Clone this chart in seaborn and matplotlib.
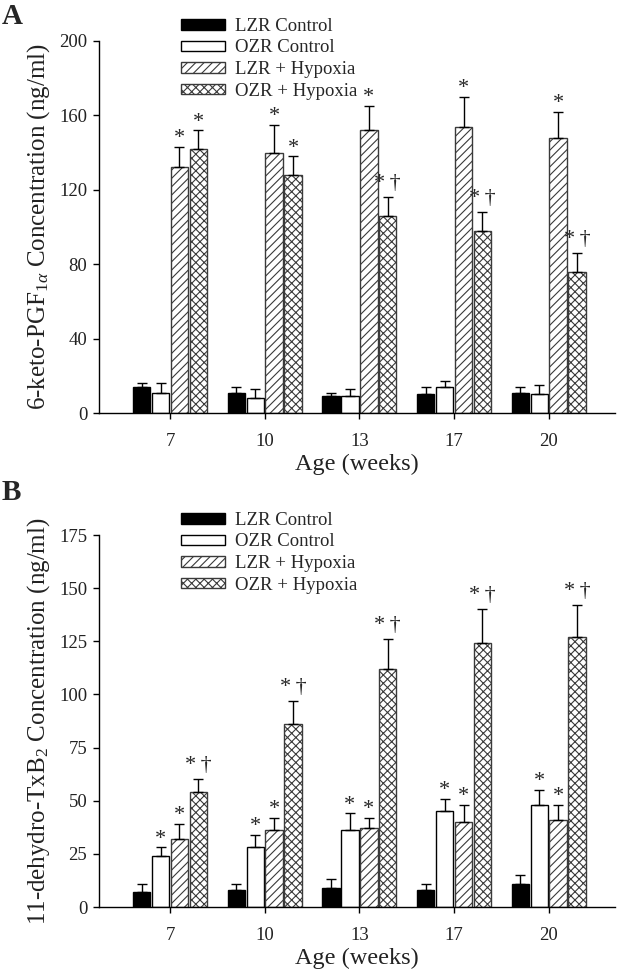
import numpy as np
import pandas as pd
import matplotlib
matplotlib.use("Agg")
import matplotlib.pyplot as plt
import seaborn as sns

ages = ["7", "10", "13", "17", "20"]
groups = ["LZR Control", "OZR Control", "LZR + Hypoxia", "OZR + Hypoxia"]

# Panel A: 6-keto-PGF1a (ng/ml)
a_lzr_c = [14, 11, 9, 10, 11]
a_ozr_c = [11, 8, 9, 14, 10]
a_lzr_h = [132, 140, 152, 154, 148]
a_ozr_h = [142, 128, 106, 98, 76]
a_lzr_c_err = [2, 3, 2, 4, 3]
a_ozr_c_err = [5, 5, 4, 3, 5]
a_lzr_h_err = [11, 15, 13, 16, 14]
a_ozr_h_err = [10, 10, 10, 10, 10]
a_marks = [["", "", "", "", ""],
           ["", "", "", "", ""],
           ["*", "*", "*", "*", "*"],
           ["*", "*", "*\u2009†", "*\u2009†", "*\u2009†"]]

# Panel B: 11-dehydro-TxB2 (ng/ml)
b_lzr_c = [7, 8, 9, 8, 11]
b_ozr_c = [24, 28, 36, 45, 48]
b_lzr_h = [32, 36, 37, 40, 41]
b_ozr_h = [54, 86, 112, 124, 127]
b_lzr_c_err = [4, 3, 4, 3, 4]
b_ozr_c_err = [4, 6, 8, 6, 7]
b_lzr_h_err = [7, 6, 5, 8, 7]
b_ozr_h_err = [6, 11, 14, 16, 15]
b_marks = [["", "", "", "", ""],
           ["*", "*", "*", "*", "*"],
           ["*", "*", "*", "*", "*"],
           ["*\u2009†", "*\u2009†", "*\u2009†", "*\u2009†", "*\u2009†"]]

sns.set_theme(style="ticks")
plt.rcParams["font.family"] = ["Liberation Serif", "DejaVu Serif"]
plt.rcParams["mathtext.fontset"] = "custom"
plt.rcParams["mathtext.rm"] = "Liberation Serif"
plt.rcParams["mathtext.it"] = "Liberation Serif:italic"
plt.rcParams["hatch.linewidth"] = 0.8

fig = plt.figure(figsize=(6.2, 9.75), dpi=100)
axA = fig.add_axes([99 / 620, 1 - 413 / 975, (615 - 99) / 620, 372 / 975])
axB = fig.add_axes([99 / 620, 1 - 907 / 975, (615 - 99) / 620, 372 / 975])

fills = {"LZR Control": "black", "OZR Control": "white",
         "LZR + Hypoxia": "white", "OZR + Hypoxia": "white"}
hatches = [None, None, "////", "xxxx"]
edges = ["black", "black", "#3a3a3a", "#3a3a3a"]


def panel(ax, vals, errs, marks, ymax, yticks, ylabel, letter, leg_top,
          letter_top):
    rows = []
    for g, v in zip(groups, vals):
        for a, y in zip(ages, v):
            rows.append({"age": a, "group": g, "value": y})
    df = pd.DataFrame(rows)
    sns.barplot(data=df, x="age", y="value", hue="group", order=ages,
                hue_order=groups, palette=fills, errorbar=None, gap=0.08,
                legend=False, ax=ax, linewidth=1.0, edgecolor="black")
    bar_conts = list(ax.containers)
    for ci, cont in enumerate(bar_conts):
        xs, tops = [], []
        for p in cont.patches:
            p.set_edgecolor(edges[ci])
            if hatches[ci]:
                p.set_hatch(hatches[ci])
            xs.append(p.get_x() + p.get_width() / 2)
            tops.append(p.get_height())
        xs = np.array(xs)
        tops = np.array(tops)
        e = np.array(errs[ci])
        ax.errorbar(xs, tops, yerr=[np.zeros_like(e), e], fmt="none",
                    ecolor="black", elinewidth=1.0, capsize=3.3,
                    capthick=1.0, zorder=1)
        for x, t, ee, m in zip(xs, tops, e, marks[ci]):
            if m:
                dy = 3.0 if "†" in m else -1.0
                ax.annotate(m, (x, t + ee), xytext=(0, dy),
                            textcoords="offset points", ha="center",
                            va="bottom", fontsize=16)
    ax.set_ylim(0, ymax)
    ax.set_xlim(-0.75, 4.7)
    ax.set_yticks(yticks)
    ax.set_yticklabels([str(t) for t in yticks])
    ax.tick_params(axis="both", direction="out", length=4.5, width=1.0,
                   labelsize=13.5, color="black", labelcolor="#222222")
    ax.tick_params(axis="x", pad=10)
    ax.tick_params(axis="y", pad=4)
    for s in ["top", "right"]:
        ax.spines[s].set_visible(False)
    for s in ["left", "bottom"]:
        ax.spines[s].set_linewidth(1.0)
        ax.spines[s].set_color("black")
    ax.set_xlabel("Age (weeks)", fontsize=17.5, labelpad=3, color="#222222")
    ax.set_ylabel(ylabel, fontsize=18, labelpad=5, color="#222222")
    ax.legend(handles=bar_conts, labels=groups, loc="upper left",
              bbox_to_anchor=(181 / 620, leg_top),
              bbox_transform=fig.transFigure, frameon=False, fontsize=13.5,
              borderpad=0, borderaxespad=0, handlelength=2.35,
              handleheight=0.5, handletextpad=0.53, labelspacing=0.24)
    fig.text(2 / 620, letter_top, letter, fontsize=21,
             fontweight="bold", va="top", ha="left")


panel(axA, [a_lzr_c, a_ozr_c, a_lzr_h, a_ozr_h],
      [a_lzr_c_err, a_ozr_c_err, a_lzr_h_err, a_ozr_h_err], a_marks,
      200, [0, 40, 80, 120, 160, 200],
      r"6-keto-PGF$_{1\alpha}$ Concentration (ng/ml)", "A", 1 - 18 / 975,
      1 - 3.5 / 975)
panel(axB, [b_lzr_c, b_ozr_c, b_lzr_h, b_ozr_h],
      [b_lzr_c_err, b_ozr_c_err, b_lzr_h_err, b_ozr_h_err], b_marks,
      175, [0, 25, 50, 75, 100, 125, 150, 175],
      r"11-dehydro-TxB$_{2}$ Concentration (ng/ml)", "B", 1 - 512 / 975,
      1 - 479 / 975)

fig.savefig("out.png", dpi=100)
